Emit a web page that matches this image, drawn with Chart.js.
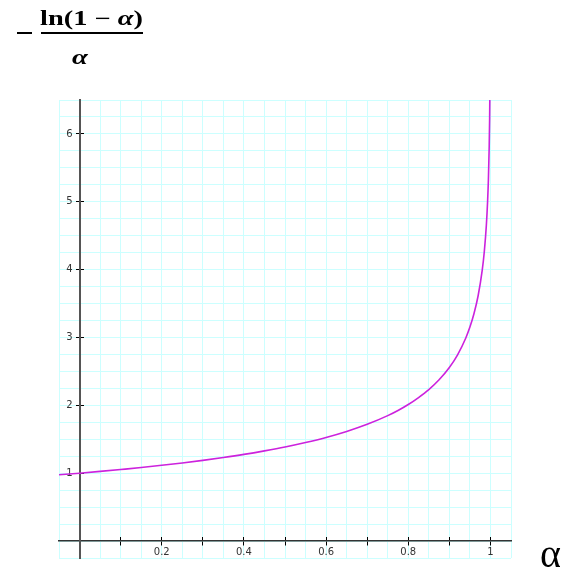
<!DOCTYPE html>
<html>
<head>
<meta charset="utf-8">
<script src="https://cdn.jsdelivr.net/npm/chart.js@4/dist/chart.umd.min.js"></script>
<style>
  body { margin: 0; background: #fff; }
  #wrap { position: relative; width: 569px; height: 576px; overflow: hidden; }
  #plot { position: absolute; left: 0; top: 0; }
  .t { position: absolute; font-family: "Liberation Serif", "DejaVu Serif", serif; color: #000; white-space: nowrap; transform-origin: 0 0; }
  .bar { position: absolute; background: #000; }
</style>
</head>
<body>
<div id="wrap">
  <canvas id="plot" width="569" height="576"></canvas>
  <div class="bar" style="left:17px;top:32px;width:15px;height:2px;"></div>
  <div class="t" style="left:40px;top:7px;font-size:20px;font-weight:bold;transform:scaleX(1.42);">ln(1 &minus; <i>&alpha;</i>)</div>
  <div class="bar" style="left:41px;top:32px;width:102px;height:2px;"></div>
  <div class="t" style="left:72px;top:44px;font-size:22px;font-weight:bold;transform:scaleX(1.3);"><i>&alpha;</i></div>
  <div class="t" style="left:540px;top:530px;font-size:40px;">&alpha;</div>
</div>
<script>
const alphaVals = [-0.05, 0, 0.05, 0.1, 0.15, 0.2, 0.25, 0.3, 0.35, 0.4, 0.45, 0.5, 0.55, 0.6, 0.65,
  0.7, 0.75, 0.775, 0.8, 0.825, 0.85, 0.875, 0.9, 0.92, 0.94, 0.95, 0.96, 0.97, 0.98, 0.985,
  0.99, 0.993, 0.995, 0.997, 0.998, 0.999];
const curveVals = [0.976, 1.0, 1.026, 1.054, 1.083, 1.116, 1.151, 1.189, 1.231, 1.277, 1.329, 1.386, 1.452, 1.527, 1.615,
  1.720, 1.848, 1.924, 2.012, 2.115, 2.232, 2.377, 2.558, 2.745, 2.993, 3.153, 3.353, 3.615, 3.992, 4.264,
  4.652, 5.000, 5.325, 5.827, 6.227, 6.914];

const xTicks = [0.1, 0.2, 0.3, 0.4, 0.5, 0.6, 0.7, 0.8, 0.9, 1];
const xLabels = ["", "0.2", "", "0.4", "", "0.6", "", "0.8", "", "1"];
const yTicks = [1, 2, 3, 4, 5, 6];
const yLabels = ["1", "2", "3", "4", "5", "6"];

const xMin = -0.05, xMax = 1.05, yMin = -0.25, yMax = 6.5;

points = alphaVals.map((a, i) => ({ x: a, y: curveVals[i] }));

const gridColor = "#ccffff";
const tickFont = { family: "DejaVu Sans, sans-serif", size: 10 };

function setTicks(vals) {
    return axis => { axis.ticks = vals.map(v => ({ value: v })); };
}

chart = new Chart(document.getElementById("plot"), {
    type: "line",
    data: {
        datasets: [{
            data: points,
            borderColor: "#cc22dd",
            borderWidth: 1.6,
            pointRadius: 0,
            cubicInterpolationMode: "monotone",
            xAxisID: "x",
            yAxisID: "y"
        }]
    },
    options: {
        responsive: false,
        animation: false,
        layout: { padding: { left: 59, right: 58, top: 100, bottom: 18 } },
        plugins: { legend: { display: false }, tooltip: { enabled: false } },
        scales: {
            xg: {
                type: "linear", position: "bottom", min: xMin, max: xMax,
                ticks: { display: false, stepSize: 0.05 },
                grid: { color: gridColor, lineWidth: 1, drawTicks: false },
                border: { display: false }
            },
            yg: {
                type: "linear", position: "left", min: yMin, max: yMax,
                ticks: { display: false, stepSize: 0.25 },
                grid: { color: gridColor, lineWidth: 1, drawTicks: false },
                border: { display: false }
            },
            x: {
                type: "linear", position: { y: 0 }, min: xMin, max: xMax,
                afterBuildTicks: setTicks(xTicks),
                ticks: {
                    color: "#333", font: tickFont, padding: 1, maxRotation: 0, autoSkip: false,
                    callback: (v, i) => xLabels[i]
                },
                grid: { drawOnChartArea: false, tickLength: 4, color: "#000", lineWidth: 1 },
                border: { color: "#333", width: 1.5 }
            },
            xin: {
                type: "linear", position: { y: 0 }, min: xMin, max: xMax,
                afterBuildTicks: setTicks(xTicks),
                ticks: { display: false },
                grid: { drawOnChartArea: false, tickLength: -4, color: "#000", lineWidth: 1 },
                border: { display: false }
            },
            y: {
                type: "linear", position: { x: 0 }, min: yMin, max: yMax,
                afterBuildTicks: setTicks(yTicks),
                ticks: { display: false },
                grid: { drawOnChartArea: false, tickLength: 3, color: "#000", lineWidth: 1 },
                border: { color: "#555", width: 2 }
            },
            yin: {
                type: "linear", position: { x: 0 }, min: yMin, max: yMax,
                afterBuildTicks: setTicks(yTicks),
                ticks: { display: false },
                grid: { drawOnChartArea: false, tickLength: -4, color: "#000", lineWidth: 1 },
                border: { display: false }
            },
            ylab: {
                type: "linear", position: { x: -0.017 }, min: yMin, max: yMax,
                afterBuildTicks: setTicks(yTicks),
                ticks: {
                    color: "#333", font: tickFont, autoSkip: false,
                    callback: (v, i) => yLabels[i]
                },
                grid: { display: false },
                border: { display: false }
            }
        }
    }
});
</script>
</body>
</html>
